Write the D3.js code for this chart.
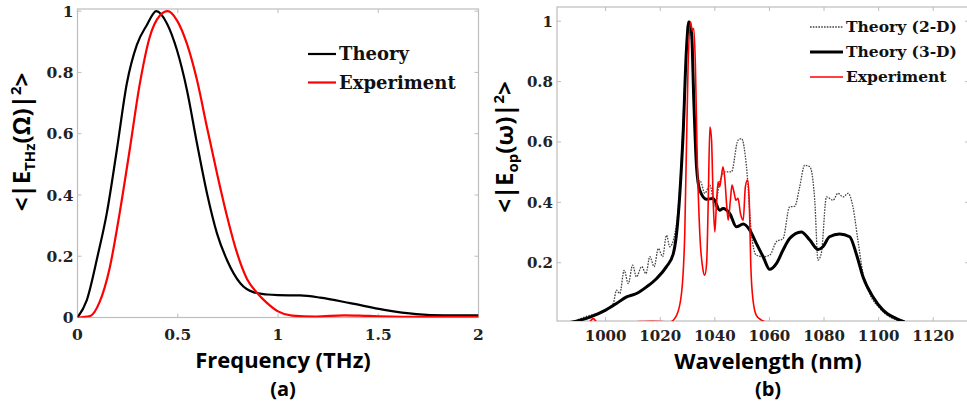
<!DOCTYPE html>
<html>
<head>
<meta charset="utf-8">
<script src="https://cdn.jsdelivr.net/npm/d3@7"></script>
<style>
  body { margin: 0; background: #fff; }
  svg { display: block; }
  .tick-label { font-family: 'DejaVu Serif', serif; font-weight: bold; fill: #222; }
  .axis-title { font-family: 'Open Sans', sans-serif; font-weight: bold; fill: #000; }
  .legend-text { font-family: 'DejaVu Serif', serif; font-weight: bold; fill: #111; }
</style>
</head>
<body>
<svg id="chart" width="967" height="405"></svg>
<script>
// panel (a): THz spectrum, [frequency THz, normalised power]
const thzTheory = [
  [0, 0], [0.046, 0.056], [0.1, 0.2], [0.146, 0.34], [0.196, 0.546], [0.246, 0.764],
  [0.296, 0.89], [0.346, 0.955], [0.393, 1.0], [0.446, 0.96], [0.496, 0.873],
  [0.546, 0.742], [0.596, 0.568], [0.646, 0.405], [0.696, 0.274], [0.746, 0.187],
  [0.813, 0.111], [0.88, 0.082], [0.946, 0.075], [1.0, 0.073], [1.11, 0.072],
  [1.21, 0.065], [1.36, 0.047], [1.53, 0.025], [1.69, 0.011], [1.83, 0.007], [2.0, 0.007]
]
const thzExperiment = [
  [0, 0], [0.063, 0.005], [0.11, 0.05], [0.16, 0.16], [0.21, 0.34], [0.26, 0.546],
  [0.31, 0.76], [0.36, 0.915], [0.41, 0.985], [0.45, 1.0], [0.496, 0.97],
  [0.546, 0.893], [0.596, 0.775], [0.646, 0.62], [0.696, 0.47], [0.746, 0.33],
  [0.796, 0.21], [0.846, 0.125], [0.896, 0.08], [0.946, 0.047], [1.0, 0.02],
  [1.07, 0.006], [1.19, 0.003], [1.33, 0.007], [1.45, 0.005], [1.7, 0.002], [2.0, 0.002]
]
const thzXTicks = [0, 0.5, 1, 1.5, 2]
const thzYTicks = [0, 0.2, 0.4, 0.6, 0.8, 1]

// panel (b): optical spectrum, [wavelength nm, normalised power]
const opTheory2D = [
  [987, 0], [994.3, 0.026], [999.1, 0.037], [1002.8, 0.065], [1004, 0.109], [1005.2, 0.098],
  [1006.8, 0.175], [1008.3, 0.131], [1009.9, 0.192], [1011.3, 0.153], [1013.2, 0.187],
  [1014.8, 0.164], [1016.2, 0.22], [1017.8, 0.187], [1019.3, 0.247], [1020.9, 0.22],
  [1022.3, 0.291], [1023.5, 0.253], [1025.4, 0.297], [1027.2, 0.452], [1029, 0.794],
  [1030.2, 0.998], [1031.5, 0.937], [1032.7, 0.65], [1033.9, 0.474], [1034.9, 0.468],
  [1036.3, 0.43], [1038.2, 0.457], [1040, 0.385], [1041.8, 0.468], [1043.7, 0.501],
  [1046.1, 0.501], [1048.5, 0.606], [1049.8, 0.611], [1051.6, 0.518], [1053.4, 0.297],
  [1055.2, 0.225], [1057.7, 0.22], [1060.1, 0.225], [1062.6, 0.27], [1065, 0.28],
  [1067.4, 0.385], [1069.3, 0.387], [1071.1, 0.452], [1072.9, 0.523], [1074.8, 0.518],
  [1076.6, 0.407], [1077.8, 0.209], [1079, 0.231], [1080.9, 0.418], [1083.3, 0.407],
  [1085.1, 0.43], [1087, 0.418], [1088.8, 0.43], [1090.6, 0.385], [1092.4, 0.275],
  [1094.3, 0.164], [1096.7, 0.098], [1100.4, 0.049], [1104, 0.021], [1107.7, 0.007]
]
const opTheory3D = [
  [987, 0.002], [994.3, 0.02], [1000, 0.043], [1004, 0.065], [1007.7, 0.087], [1011.3, 0.098],
  [1015, 0.12], [1018.7, 0.148], [1022.3, 0.187], [1024.8, 0.23], [1026, 0.297],
  [1027.2, 0.43], [1028.4, 0.628], [1029.6, 0.904], [1030.5, 0.998], [1031.5, 0.96],
  [1032.3, 0.74], [1033.3, 0.518], [1034.5, 0.44], [1037, 0.41], [1039.4, 0.413],
  [1041.8, 0.374], [1043, 0.38], [1045.5, 0.363], [1047.9, 0.319], [1050.4, 0.328],
  [1052.8, 0.308], [1055.2, 0.264], [1057.7, 0.22], [1060.1, 0.178], [1062.6, 0.198],
  [1065, 0.242], [1067.4, 0.28], [1071.7, 0.302], [1074.8, 0.275], [1077.8, 0.244],
  [1079.6, 0.253], [1082, 0.286], [1085.7, 0.295], [1089.4, 0.286], [1091.8, 0.23],
  [1094.3, 0.153], [1097.9, 0.087], [1101.6, 0.043], [1106.5, 0.015], [1109.5, 0.004]
]
const opExperiment = [
  [994, 0.002], [995.5, 0.015], [997, 0.002], [1010, 0.004], [1017, 0.006], [1023.5, 0.004],
  [1026, 0.026], [1027.8, 0.098], [1029, 0.297], [1030.2, 0.849], [1031.1, 0.998],
  [1031.7, 0.97], [1032.3, 0.976], [1032.9, 0.849], [1033.5, 0.573], [1034.5, 0.297],
  [1035.7, 0.175], [1036.3, 0.159], [1037, 0.198], [1037.6, 0.407], [1038.2, 0.65],
  [1038.8, 0.606], [1039.4, 0.407], [1040, 0.302], [1040.6, 0.396], [1041.2, 0.468],
  [1041.8, 0.452], [1042.4, 0.485], [1043, 0.518], [1043.7, 0.474], [1044.3, 0.396],
  [1044.9, 0.341], [1045.7, 0.407], [1046.3, 0.457], [1047.1, 0.43], [1047.7, 0.407],
  [1048.5, 0.413], [1049.4, 0.363], [1050.4, 0.341], [1051.2, 0.452], [1052, 0.474],
  [1052.6, 0.407], [1053.2, 0.187], [1054, 0.076], [1055.2, 0.026], [1057.1, 0.01],
  [1058.9, 0.004], [1066, 0.003], [1073, 0.004], [1085, 0.002], [1098, 0.004], [1110, 0.002]
]
const opXTicks = [1000, 1020, 1040, 1060, 1080, 1100, 1120]
const opYTicks = [0.2, 0.4, 0.6, 0.8, 1]

const svg = d3.select('#chart')
const boxColor = '#bdbdbd'

function drawPanel(p) {
  const x = d3.scaleLinear().domain(p.xDomain).range([p.left, p.right])
  const y = d3.scaleLinear().domain(p.yDomain).range([p.bottom, p.top])
  const g = svg.append('g')

  g.append('clipPath').attr('id', p.id + '-clip')
    .append('rect').attr('x', p.left).attr('y', p.top)
    .attr('width', p.right - p.left).attr('height', p.bottom - p.top)

  // inner ticks on all four sides
  const tk = 4
  p.xTicks.forEach(t => {
    g.append('line').attr('x1', x(t)).attr('x2', x(t)).attr('y1', p.bottom).attr('y2', p.bottom - tk).attr('stroke', boxColor)
    g.append('line').attr('x1', x(t)).attr('x2', x(t)).attr('y1', p.top).attr('y2', p.top + tk).attr('stroke', boxColor)
    g.append('text').attr('class', 'tick-label').attr('x', x(t)).attr('y', p.xLabelY)
      .attr('text-anchor', 'middle').attr('font-size', p.tickSize).text(t)
  })
  p.yTicks.forEach(t => {
    g.append('line').attr('x1', p.left).attr('x2', p.left + tk).attr('y1', y(t)).attr('y2', y(t)).attr('stroke', boxColor)
    g.append('line').attr('x1', p.right).attr('x2', p.right - tk).attr('y1', y(t)).attr('y2', y(t)).attr('stroke', boxColor)
    g.append('text').attr('class', 'tick-label').attr('x', p.left - 4).attr('y', y(t))
      .attr('dy', '0.36em').attr('text-anchor', 'end').attr('font-size', p.tickSize).text(t)
  })

  g.append('rect').attr('x', p.left).attr('y', p.top)
    .attr('width', p.right - p.left).attr('height', p.bottom - p.top)
    .attr('fill', 'none').attr('stroke', boxColor).attr('stroke-width', 1.2)

  const line = d3.line().x(d => x(d[0])).y(d => y(d[1])).curve(d3.curveMonotoneX)
  p.series.forEach(s => {
    g.append('path').datum(s.data)
      .attr('clip-path', 'url(#' + p.id + '-clip)')
      .attr('d', line).attr('fill', 'none')
      .attr('stroke', s.color).attr('stroke-width', s.width)
      .attr('stroke-dasharray', s.dash || null)
      .attr('stroke-linejoin', 'round')
  })

  // legend
  p.series.slice().sort((a, b) => a.legendOrder - b.legendOrder).forEach((s, i) => {
    const ly = p.legendY + i * p.legendStep
    g.append('line').attr('x1', p.legendX).attr('x2', p.legendX + p.legendLen)
      .attr('y1', ly).attr('y2', ly)
      .attr('stroke', s.color).attr('stroke-width', s.legendWidth || s.width)
      .attr('stroke-dasharray', s.dash || null)
    g.append('text').attr('class', 'legend-text').attr('x', p.legendX + p.legendLen + 3)
      .attr('y', ly).attr('dy', '0.35em').attr('font-size', p.legendSize).text(s.name)
  })

  // axis titles
  g.append('text').attr('class', 'axis-title').attr('x', p.titleX).attr('y', p.titleY)
    .attr('text-anchor', 'middle').attr('font-size', 22).text(p.xTitle)
  g.append('text').attr('class', 'axis-title').attr('x', p.titleX).attr('y', 396)
    .attr('text-anchor', 'middle').attr('font-size', 20).text(p.caption)

  const yt = g.append('text').attr('class', 'axis-title')
    .attr('transform', 'translate(' + p.yTitleX + ',' + p.yTitleY + ') rotate(-90)')
    .attr('text-anchor', 'middle').attr('font-size', 24)
  yt.append('tspan').text('<|E')
  yt.append('tspan').attr('font-size', 15).attr('dy', 5).text(p.ySub)
  yt.append('tspan').attr('dy', -5).text(p.yVar + '|')
  yt.append('tspan').attr('font-size', 15).attr('dy', -9).text('2')
  yt.append('tspan').attr('dy', 9).text('>')
}

drawPanel({
  id: 'a', left: 77.5, right: 478.5, top: 9, bottom: 317.5,
  xDomain: [0, 2], yDomain: [0, 1.007],
  xTicks: thzXTicks, yTicks: thzYTicks, tickSize: 15.5, xLabelY: 340,
  series: [
    { name: 'Theory', data: thzTheory, color: '#000', width: 2.2, legendOrder: 0 },
    { name: 'Experiment', data: thzExperiment, color: '#f00', width: 2.2, legendOrder: 1 }
  ],
  legendX: 308, legendY: 54, legendStep: 28.5, legendLen: 28, legendSize: 18,
  xTitle: 'Frequency (THz)', caption: '(a)', titleX: 283, titleY: 368,
  yTitleX: 30, yTitleY: 142, ySub: 'THz', yVar: '(Ω)'
})

drawPanel({
  id: 'b', left: 557, right: 969, top: 7, bottom: 321,
  xDomain: [982.2, 1133.1], yDomain: [0.007, 1.047],
  xTicks: opXTicks, yTicks: opYTicks, tickSize: 15, xLabelY: 341,
  series: [
    { name: 'Theory (2-D)', data: opTheory2D, color: '#444', width: 1.3, dash: '1.6,1.2', legendOrder: 0 },
    { name: 'Theory (3-D)', data: opTheory3D, color: '#000', width: 3, legendOrder: 1 },
    { name: 'Experiment', data: opExperiment, color: '#f00', width: 1.6, legendOrder: 2 }
  ],
  legendX: 810, legendY: 27, legendStep: 25, legendLen: 33, legendSize: 15.5,
  xTitle: 'Wavelength (nm)', caption: '(b)', titleX: 768, titleY: 369,
  yTitleX: 513, yTitleY: 147, ySub: 'op', yVar: '(ω)'
})
</script>
</body>
</html>
